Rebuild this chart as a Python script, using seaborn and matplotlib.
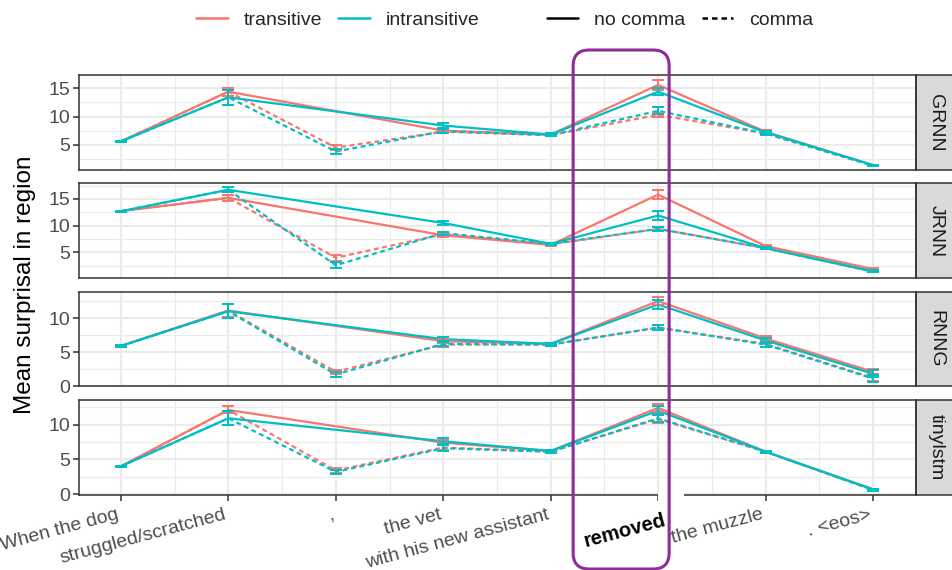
import numpy as np
import pandas as pd
import matplotlib.pyplot as plt
import matplotlib.transforms as mtransforms
import seaborn as sns
from matplotlib.lines import Line2D
from matplotlib.patches import FancyBboxPatch, Rectangle

# x regions of the sentence
regions = ["When the dog", "struggled/scratched", ",", "the vet",
           "with his new assistant", "removed", "the muzzle", ". <eos>"]
positions = [1, 2, 3, 4, 5, 6, 7, 8]
models = ["GRNN", "JRNN", "RNNG", "tinylstm"]
verbs = ["transitive", "intransitive"]
commas = ["no comma", "comma"]

# mean surprisal per region (None = region absent in that condition)
grnn_tr_nc = [5.6, 14.4, None, 7.5, 6.8, 15.6, 7.3, 1.4]
grnn_in_nc = [5.6, 13.4, None, 8.4, 6.8, 14.4, 7.2, 1.4]
grnn_tr_c = [5.6, 14.4, 4.5, 7.3, 6.7, 10.3, 7.0, 1.3]
grnn_in_c = [5.6, 13.4, 3.8, 7.4, 6.7, 11.0, 7.0, 1.3]

jrnn_tr_nc = [12.7, 15.2, None, 8.2, 6.4, 15.8, 6.2, 1.9]
jrnn_in_nc = [12.7, 16.7, None, 10.5, 6.6, 11.9, 5.8, 1.5]
jrnn_tr_c = [12.7, 15.2, 4.0, 8.4, 6.5, 9.4, 5.8, 1.4]
jrnn_in_c = [12.7, 16.7, 2.6, 8.6, 6.6, 9.4, 5.8, 1.4]

rnng_tr_nc = [5.9, 11.1, None, 6.6, 6.2, 12.5, 7.0, 2.1]
rnng_in_nc = [5.9, 11.0, None, 6.9, 6.2, 12.0, 6.7, 1.8]
rnng_tr_c = [5.9, 11.1, 2.1, 6.1, 6.1, 8.6, 6.2, 1.2]
rnng_in_c = [5.9, 11.0, 1.7, 6.2, 6.1, 8.6, 6.1, 1.1]

tiny_tr_nc = [4.0, 12.1, None, 7.4, 6.2, 12.4, 6.1, 0.7]
tiny_in_nc = [4.0, 10.9, None, 7.6, 6.2, 12.0, 6.1, 0.7]
tiny_tr_c = [4.0, 12.1, 3.4, 6.7, 6.1, 10.8, 6.1, 0.6]
tiny_in_c = [4.0, 10.9, 3.2, 6.6, 6.1, 10.9, 6.1, 0.6]

# error bar half widths
grnn_err_tr_nc = [0.1, 0.7, None, 0.3, 0.2, 0.9, 0.3, 0.1]
grnn_err_in_nc = [0.1, 1.3, None, 0.4, 0.2, 0.6, 0.3, 0.1]
grnn_err_tr_c = [0.1, 0.7, 0.4, 0.3, 0.2, 0.3, 0.2, 0.1]
grnn_err_in_c = [0.1, 1.3, 0.4, 0.3, 0.2, 0.6, 0.2, 0.1]

jrnn_err_tr_nc = [0.1, 0.5, None, 0.3, 0.2, 0.8, 0.2, 0.15]
jrnn_err_in_nc = [0.1, 0.5, None, 0.3, 0.2, 0.9, 0.2, 0.15]
jrnn_err_tr_c = [0.1, 0.5, 0.6, 0.3, 0.2, 0.4, 0.2, 0.15]
jrnn_err_in_c = [0.1, 0.5, 0.6, 0.3, 0.2, 0.4, 0.2, 0.15]

rnng_err_tr_nc = [0.1, 1.0, None, 0.3, 0.15, 0.6, 0.4, 0.4]
rnng_err_in_nc = [0.1, 1.0, None, 0.3, 0.15, 0.6, 0.4, 0.5]
rnng_err_tr_c = [0.1, 1.0, 0.3, 0.3, 0.15, 0.35, 0.4, 0.5]
rnng_err_in_c = [0.1, 1.0, 0.3, 0.3, 0.15, 0.35, 0.4, 0.5]

tiny_err_tr_nc = [0.1, 0.5, None, 0.4, 0.15, 0.6, 0.15, 0.1]
tiny_err_in_nc = [0.1, 1.0, None, 0.4, 0.15, 0.6, 0.15, 0.1]
tiny_err_tr_c = [0.1, 0.5, 0.3, 0.4, 0.15, 0.6, 0.15, 0.1]
tiny_err_in_c = [0.1, 1.0, 0.3, 0.4, 0.15, 0.6, 0.15, 0.1]

series = {
    "GRNN": [grnn_tr_nc, grnn_in_nc, grnn_tr_c, grnn_in_c],
    "JRNN": [jrnn_tr_nc, jrnn_in_nc, jrnn_tr_c, jrnn_in_c],
    "RNNG": [rnng_tr_nc, rnng_in_nc, rnng_tr_c, rnng_in_c],
    "tinylstm": [tiny_tr_nc, tiny_in_nc, tiny_tr_c, tiny_in_c],
}
errors = {
    "GRNN": [grnn_err_tr_nc, grnn_err_in_nc, grnn_err_tr_c, grnn_err_in_c],
    "JRNN": [jrnn_err_tr_nc, jrnn_err_in_nc, jrnn_err_tr_c, jrnn_err_in_c],
    "RNNG": [rnng_err_tr_nc, rnng_err_in_nc, rnng_err_tr_c, rnng_err_in_c],
    "tinylstm": [tiny_err_tr_nc, tiny_err_in_nc, tiny_err_tr_c, tiny_err_in_c],
}
conds = [("transitive", "no comma"), ("intransitive", "no comma"),
         ("transitive", "comma"), ("intransitive", "comma")]

rows = []
for m in models:
    for (v, c), vals, errs in zip(conds, series[m], errors[m]):
        for p, y, e in zip(positions, vals, errs):
            if y is not None:
                rows.append((m, v, c, p, y, e))
df = pd.DataFrame(rows, columns=["model", "verb", "comma", "pos", "mean", "err"])

ylims = {"GRNN": (0.59, 17.35), "JRNN": (0.23, 17.92),
         "RNNG": (-0.03, 13.9), "tinylstm": (-0.05, 13.55)}
yticks = {"GRNN": [5, 10, 15], "JRNN": [5, 10, 15],
          "RNNG": [0, 5, 10], "tinylstm": [0, 5, 10]}

sns.set_style("white")
plt.rcParams["font.family"] = ["Liberation Sans", "DejaVu Sans"]

pal = {"transitive": "#F8766D", "intransitive": "#00BFC4"}
dash = (2.2, 1.6)
grey20 = "#333333"

fig, axes = plt.subplots(4, 1, figsize=(9.53, 5.70), dpi=100, sharex=True)
fig.subplots_adjust(left=79 / 953, right=916 / 953, top=1 - 75 / 570,
                    bottom=1 - 494.5 / 570, hspace=0.144)

for ax, m in zip(axes, models):
    sub = df[df.model == m]
    sns.lineplot(data=sub, x="pos", y="mean", hue="verb", style="comma",
                 hue_order=verbs, style_order=commas, palette=pal,
                 dashes={"no comma": "", "comma": dash}, linewidth=1.6,
                 errorbar=None, legend=False, ax=ax)
    for v in verbs:
        for c in commas:
            g = sub[(sub.verb == v) & (sub.comma == c)]
            ax.errorbar(g["pos"], g["mean"], yerr=g["err"], fmt="none",
                        ecolor=pal[v], elinewidth=1.4, capsize=4, capthick=1.4,
                        zorder=3)

    lo, hi = ylims[m]
    ax.set_xticks(positions)
    ax.set_xticks(np.arange(1.5, 8, 1), minor=True)
    ax.set_yticks(yticks[m])
    minor_y = [t for t in np.arange(-2.5, 20, 5) if lo < t < hi]
    ax.set_yticks(minor_y, minor=True)
    ax.set_xlim(0.61, 8.4)
    ax.set_ylim(lo, hi)
    ax.grid(which="major", color="#EBEBEB", lw=1.5)
    ax.grid(which="minor", color="#EBEBEB", lw=0.8)
    ax.set_axisbelow(True)
    ax.set_xlabel("")
    ax.set_ylabel("")
    for s in ax.spines.values():
        s.set_color(grey20)
        s.set_linewidth(1.1)
    ax.tick_params(axis="y", which="major", length=4, width=1.1, color=grey20,
                   labelsize=14, labelcolor="#4D4D4D", pad=2.5, left=True)
    ax.tick_params(which="minor", length=0)
    ax.tick_params(axis="x", which="major", length=0, labelbottom=False)

    # facet strip on the right
    ax.add_patch(Rectangle((1.0, 0), 45 / 837, 1, transform=ax.transAxes,
                           clip_on=False, facecolor="#D9D9D9",
                           edgecolor=grey20, lw=1.1))
    ax.text(1 + 20 / 837, 0.5, m, transform=ax.transAxes, rotation=270,
            ha="center", va="center", fontsize=14, color="#1A1A1A")

bax = axes[-1]
bax.tick_params(axis="x", which="major", length=4.5, width=1.1, color=grey20,
                labelbottom=True, bottom=True, pad=4)
bax.set_xticks(positions)
bax.set_xticklabels(regions, rotation=15, ha="right", fontsize=14,
                    color="#4D4D4D")
lab = bax.get_xticklabels()[5]
lab.set_fontweight("bold")
lab.set_color("black")
lab.set_fontsize(14.5)
lab.set_transform(lab.get_transform() +
                  mtransforms.ScaledTranslation(7 / 72, -3 / 72, fig.dpi_scale_trans))

fig.text(25 / 953, 1 - 284.5 / 570, "Mean surprisal in region", rotation=90,
         ha="center", va="center", fontsize=17.5, color="black")

# legends
h1 = [Line2D([], [], color=pal[v], lw=1.8) for v in verbs]
h2 = [Line2D([], [], color="black", lw=1.8),
      Line2D([], [], color="black", lw=1.8, dashes=dash)]
kw = dict(loc="center", frameon=False, ncol=2, fontsize=14, handlelength=1.64,
          handletextpad=0.82, columnspacing=0.82, borderpad=0)
fig.legend(h1, verbs, bbox_to_anchor=(338 / 953, 1 - 20 / 570), **kw)
fig.legend(h2, commas, bbox_to_anchor=(680 / 953, 1 - 20 / 570), **kw)

# highlight box around the "removed" region
x6 = bax.transData.transform((6, 0))[0] / fig.dpi
fig.add_artist(Rectangle((x6 + 0.0, 0.64), 0.26, 0.15,
                         transform=fig.dpi_scale_trans, facecolor="white",
                         edgecolor="none", zorder=4))
fig.add_artist(FancyBboxPatch((x6 - 0.85, 0.01), 0.96, 5.19,
                              boxstyle="round,pad=0,rounding_size=0.16",
                              transform=fig.dpi_scale_trans, fill=False,
                              edgecolor="#8E2C9A", lw=2.2, zorder=5))

fig.savefig("out.png", dpi=100)
